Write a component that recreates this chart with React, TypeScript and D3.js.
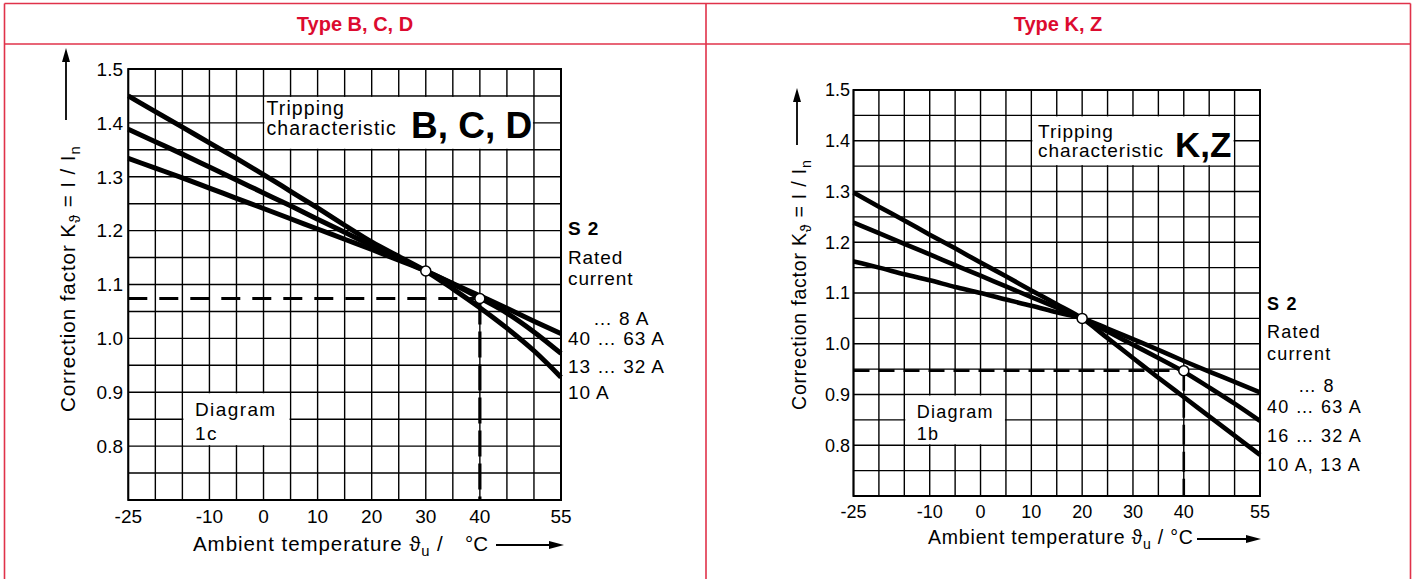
import React from "react";
import * as d3 from "d3";

// ---------- data ----------
const temps = [-25, -20, -15, -10, -5, 0, 5, 10, 15, 20, 25, 30, 35, 40, 45, 50, 55];

// Type B, C, D (diagram 1c)
const bcd10A = [1.45, 1.421, 1.392, 1.363, 1.334, 1.304, 1.273, 1.242, 1.21, 1.179, 1.152, 1.125, 1.092, 1.057, 1.019, 0.977, 0.928];
const bcd13to32A = [1.388, 1.365, 1.342, 1.318, 1.294, 1.27, 1.246, 1.221, 1.197, 1.172, 1.148, 1.125, 1.101, 1.075, 1.047, 1.012, 0.972];
const bcd8to63A = [1.334, 1.316, 1.298, 1.279, 1.26, 1.241, 1.222, 1.203, 1.184, 1.165, 1.145, 1.125, 1.102, 1.079, 1.056, 1.032, 1.009];

// Type K, Z (diagram 1b)
const kz10to13A = [1.298, 1.27, 1.243, 1.215, 1.188, 1.16, 1.133, 1.105, 1.078, 1.05, 1.011, 0.972, 0.933, 0.895, 0.857, 0.819, 0.781];
const kz16to32A = [1.239, 1.218, 1.197, 1.176, 1.155, 1.134, 1.113, 1.092, 1.071, 1.05, 1.024, 0.998, 0.972, 0.945, 0.914, 0.882, 0.848];
const kz8to63A = [1.162, 1.15, 1.137, 1.125, 1.112, 1.1, 1.087, 1.075, 1.062, 1.05, 1.03, 1.009, 0.988, 0.966, 0.945, 0.925, 0.904];

const xTickLabels = [-25, -10, 0, 10, 20, 30, 40, 55];
const yTickLabels = [0.8, 0.9, 1.0, 1.1, 1.2, 1.3, 1.4, 1.5];

const bcdMarkers = [{ t: 30, k: 1.125 }, { t: 40, k: 1.074 }];
const kzMarkers = [{ t: 20, k: 1.05 }, { t: 40, k: 0.947 }];

const bcdRatedLabels = ["\u2026 8 A", "40 \u2026 63 A", "13 \u2026 32 A", "10 A"];
const kzRatedLabels = ["\u2026 8", "40 \u2026 63 A", "16 \u2026 32 A", "10 A, 13 A"];

const FONT = "'Liberation Sans', Arial, Helvetica, sans-serif";
const RED = "#dc0b2f";
const RED_LINE = "#e0324a";

type Cfg = {
  left: number; right: number; top: number; bottom: number;
  series: number[][];
  markers: { t: number; k: number }[];
  curveW: number;
  dash: string; vdash: string; dashW: number;
  tickFont: number; yLabelX: number; xLabelY: number;
  titleFont: number; titleLS: number;
  xTitle: { x: number; y: number; degX: number | null; arrowFrom: number; arrowTo: number; arrowY: number };
  yTitle: { x: number; y: number; arrowX: number; arrowTail: number; arrowTip: number };
  trip: { x: number; y1: number; y2: number; font: number; ls: number; big: string; bigX: number; bigY: number; bigFont: number; t0: number; t1: number };
  diag: { x: number; y1: number; y2: number; font: number; ls: number; sub: string };
  side: { x: number; font: number; ls: number; s2: number; rated: number; current: number; firstX: number; labels: string[]; ys: number[] };
};

function VArrow({ x, tail, tip }: { x: number; tail: number; tip: number }) {
  return (
    <g>
      <line x1={x} x2={x} y1={tail} y2={tip + 10} stroke="#000" strokeWidth={1.8} />
      <polygon points={`${x},${tip} ${x - 4},${tip + 14} ${x + 4},${tip + 14}`} fill="#000" />
    </g>
  );
}

function HArrow({ from, to, y }: { from: number; to: number; y: number }) {
  return (
    <g>
      <line x1={from} x2={to - 10} y1={y} y2={y} stroke="#000" strokeWidth={1.8} />
      <polygon points={`${to},${y} ${to - 15},${y - 4} ${to - 15},${y + 4}`} fill="#000" />
    </g>
  );
}

function Panel({ c }: { c: Cfg }) {
  const x = d3.scaleLinear().domain([-25, 55]).range([c.left, c.right]);
  const y = d3.scaleLinear().domain([0.7, 1.5]).range([c.bottom, c.top]);
  const gridX = d3.range(0, 17).map((i) => -25 + i * 5);
  const gridY = d3.range(0, 17).map((i) => 0.7 + i * 0.05);
  const line = d3
    .line<number>()
    .x((_, i) => x(temps[i]))
    .y((d) => y(d))
    .curve(d3.curveMonotoneX);
  const m40 = c.markers[1];

  const box = (t0: number, t1: number, k0: number, k1: number) => (
    <rect x={x(t0) + 1} y={y(k1) + 1} width={x(t1) - x(t0) - 2} height={y(k0) - y(k1) - 2} fill="#fff" />
  );

  return (
    <g fontFamily={FONT}>
      {/* grid */}
      {gridX.map((t) => (
        <line key={"gx" + t} x1={x(t)} x2={x(t)} y1={c.top} y2={c.bottom} stroke="#000" strokeWidth={1.4} />
      ))}
      {gridY.map((k, i) => (
        <line key={"gy" + i} x1={c.left} x2={c.right} y1={y(k)} y2={y(k)} stroke="#000" strokeWidth={1.4} />
      ))}
      <rect x={c.left} y={c.top} width={c.right - c.left} height={c.bottom - c.top} fill="none" stroke="#000" strokeWidth={2} />

      {/* white label boxes */}
      {box(c.trip.t0, c.trip.t1, 1.35, 1.45)}
      {box(-15, 5, 0.8, 0.9)}

      {/* box texts */}
      <text x={c.trip.x} y={c.trip.y1} fontSize={c.trip.font} letterSpacing={c.trip.ls}>Tripping</text>
      <text x={c.trip.x} y={c.trip.y2} fontSize={c.trip.font} letterSpacing={c.trip.ls}>characteristic</text>
      <text x={c.trip.bigX} y={c.trip.bigY} fontSize={c.trip.bigFont} fontWeight="bold">{c.trip.big}</text>
      <text x={c.diag.x} y={c.diag.y1} fontSize={c.diag.font} letterSpacing={c.diag.ls}>Diagram</text>
      <text x={c.diag.x} y={c.diag.y2} fontSize={c.diag.font} letterSpacing={c.diag.ls}>{c.diag.sub}</text>

      {/* dashed reference lines */}
      <line x1={c.left} x2={x(m40.t)} y1={y(m40.k)} y2={y(m40.k)} stroke="#000" strokeWidth={c.dashW} strokeDasharray={c.dash} />
      <line x1={x(m40.t)} x2={x(m40.t)} y1={y(m40.k)} y2={c.bottom} stroke="#000" strokeWidth={c.dashW} strokeDasharray={c.vdash} />

      {/* curves */}
      {c.series.map((s, i) => (
        <path key={"s" + i} d={line(s) || ""} fill="none" stroke="#000" strokeWidth={c.curveW} />
      ))}

      {/* markers */}
      {c.markers.map((m, i) => (
        <circle key={"m" + i} cx={x(m.t)} cy={y(m.k)} r={5} fill="#fff" stroke="#000" strokeWidth={1.5} />
      ))}

      {/* tick labels */}
      {yTickLabels.map((v) => (
        <text key={"yl" + v} x={c.yLabelX} y={y(v)} dy="0.36em" textAnchor="end" fontSize={c.tickFont}>
          {v.toFixed(1)}
        </text>
      ))}
      {xTickLabels.map((v) => (
        <text key={"xl" + v} x={x(v)} y={c.xLabelY} textAnchor="middle" fontSize={c.tickFont}>
          {v}
        </text>
      ))}

      {/* x title */}
      <text x={c.xTitle.x} y={c.xTitle.y} fontSize={c.titleFont} letterSpacing={c.titleLS}>
        Ambient temperature {"\u03D1"}
        <tspan fontSize={c.titleFont * 0.72} dy={5}>u</tspan>
        <tspan dy={-5}>{c.xTitle.degX === null ? " / \u00B0C" : " /"}</tspan>
      </text>
      {c.xTitle.degX !== null && (
        <text x={c.xTitle.degX} y={c.xTitle.y} fontSize={c.titleFont}>{"\u00B0C"}</text>
      )}
      <HArrow from={c.xTitle.arrowFrom} to={c.xTitle.arrowTo} y={c.xTitle.arrowY} />

      {/* y title */}
      <text transform={`translate(${c.yTitle.x},${c.yTitle.y}) rotate(-90)`} fontSize={c.titleFont} letterSpacing={c.titleLS}>
        Correction factor K
        <tspan fontSize={c.titleFont * 0.72} dy={5}>{"\u03D1"}</tspan>
        <tspan dy={-5}> = I / I</tspan>
        <tspan fontSize={c.titleFont * 0.72} dy={5}>n</tspan>
      </text>
      <VArrow x={c.yTitle.arrowX} tail={c.yTitle.arrowTail} tip={c.yTitle.arrowTip} />

      {/* side labels */}
      <g fontSize={c.side.font} letterSpacing={c.side.ls}>
        <text x={c.side.x} y={c.side.s2} fontWeight="bold">S 2</text>
        <text x={c.side.x} y={c.side.rated}>Rated</text>
        <text x={c.side.x} y={c.side.current}>current</text>
        {c.side.labels.map((l, i) => (
          <text key={"sl" + i} x={i === 0 ? c.side.firstX : c.side.x} y={c.side.ys[i]}>
            {l}
          </text>
        ))}
      </g>
    </g>
  );
}

const leftCfg: Cfg = {
  left: 128.3, right: 561, top: 69, bottom: 500,
  series: [bcd10A, bcd13to32A, bcd8to63A],
  markers: bcdMarkers,
  curveW: 5,
  dash: "19 12", vdash: "26 7", dashW: 3.2,
  tickFont: 19, yLabelX: 123, xLabelY: 523,
  titleFont: 20.5, titleLS: 0.95,
  xTitle: { x: 193, y: 551, degX: 465, arrowFrom: 496, arrowTo: 564, arrowY: 545 },
  yTitle: { x: 75, y: 412, arrowX: 66, arrowTail: 120, arrowTip: 48 },
  trip: { x: 266.5, y1: 115, y2: 135, font: 19.5, ls: 1.1, big: "B, C, D", bigX: 411, bigY: 138, bigFont: 37, t0: 0, t1: 50 },
  diag: { x: 195, y1: 416, y2: 440, font: 19, ls: 1.4, sub: "1c" },
  side: { x: 568, font: 19, ls: 0.9, s2: 235, rated: 264, current: 285, firstX: 593, labels: bcdRatedLabels, ys: [325, 345, 372.5, 398.5] },
};

const rightCfg: Cfg = {
  left: 853.5, right: 1260, top: 90, bottom: 496,
  series: [kz10to13A, kz16to32A, kz8to63A],
  markers: kzMarkers,
  curveW: 4.6,
  dash: "16 9", vdash: "20 7", dashW: 2.6,
  tickFont: 18, yLabelX: 850, xLabelY: 518,
  titleFont: 19.5, titleLS: 0.8,
  xTitle: { x: 928, y: 544, degX: null, arrowFrom: 1197, arrowTo: 1261, arrowY: 539 },
  yTitle: { x: 806, y: 410, arrowX: 797, arrowTail: 145, arrowTip: 88 },
  trip: { x: 1038, y1: 138, y2: 157, font: 19, ls: 1.0, big: "K,Z", bigX: 1175, bigY: 157, bigFont: 35, t0: 10, t1: 50 },
  diag: { x: 916.7, y1: 418, y2: 440, font: 18, ls: 1.3, sub: "1b" },
  side: { x: 1267, font: 18, ls: 1.2, s2: 310, rated: 338, current: 360, firstX: 1298, labels: kzRatedLabels, ys: [392, 413, 442, 471] },
};

export default function App() {
  return (
    <svg
      width={1417}
      height={579}
      viewBox="0 0 1417 579"
      style={{ position: "absolute", left: 0, top: 0, background: "#fff" }}
    >
      <rect x={0} y={0} width={1417} height={579} fill="#fff" />
      {/* red table frame */}
      <g stroke={RED_LINE} strokeWidth={1.6}>
        <line x1={4.5} x2={1410.5} y1={3.5} y2={3.5} />
        <line x1={4.5} x2={1410.5} y1={44} y2={44} />
        <line x1={4.5} x2={4.5} y1={3.5} y2={579} />
        <line x1={706} x2={706} y1={3.5} y2={579} />
        <line x1={1410.5} x2={1410.5} y1={3.5} y2={579} />
      </g>
      <g fontFamily={FONT} fontWeight="bold" fontSize={20} fill={RED} textAnchor="middle">
        <text x={355} y={31}>Type B, C, D</text>
        <text x={1058} y={31}>Type K, Z</text>
      </g>
      <Panel c={leftCfg} />
      <Panel c={rightCfg} />
    </svg>
  );
}
